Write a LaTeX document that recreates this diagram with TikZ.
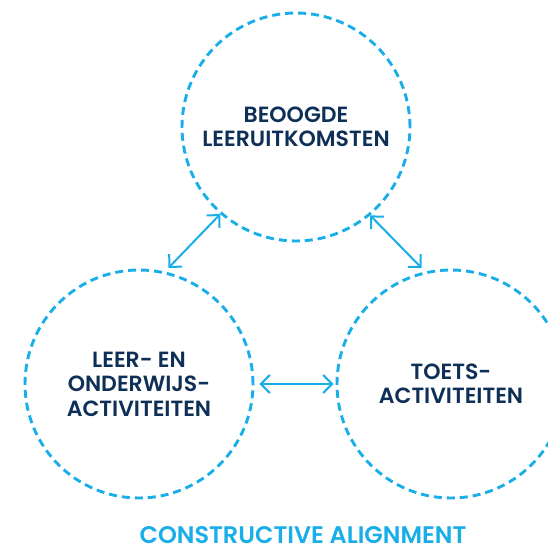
\documentclass[tikz,border=0pt]{standalone}
\usepackage{fontspec}
\setmainfont{Poppins SemiBold}
\usetikzlibrary{arrows.meta}
\definecolor{alignblue}{HTML}{1AAEE8}
\definecolor{alignnavy}{HTML}{0E2F56}
\tikzset{
	phase/.style={circle, draw=alignblue, line width=2.9pt, dash pattern=on 8pt off 5pt,
		minimum size=228pt, inner sep=0pt, align=center, text=alignnavy,
		font=\fontsize{22}{24.5}\selectfont},
	link/.style={alignblue, line width=2pt,
		{Straight Barb[length=9pt,width=18pt]}-{Straight Barb[length=9pt,width=18pt]}}
}
\begin{document}
\begin{tikzpicture}[x=1pt, y=-1pt]
		\useasboundingbox (0, 0) rectangle (548, 549);
		\begin{scope}[every node/.append style={phase}]
			\node (outcomes) at (296, 127) {BEOOGDE\\LEERUITKOMSTEN};
			\node (teaching) at (139, 384) {LEER- EN\\ONDERWIJS-\\ACTIVITEITEN};
			\node (assessment) at (451, 384) {TOETS-\\ACTIVITEITEN};
		\end{scope}
		\node[text=alignblue, font=\fontsize{24}{27}\selectfont, anchor=base,
			inner sep=0pt, text depth=0pt] (title) at (303, 543) {CONSTRUCTIVE ALIGNMENT};

		\draw[link, shorten <=5pt] (teaching.77) -- (outcomes.229);
		\draw[link, shorten <=5pt] (assessment.103) -- (outcomes.310);
		\draw[link, shorten <=5pt, shorten >=2pt] (teaching.east) -- (assessment.west);
	\end{tikzpicture}
\end{document}
